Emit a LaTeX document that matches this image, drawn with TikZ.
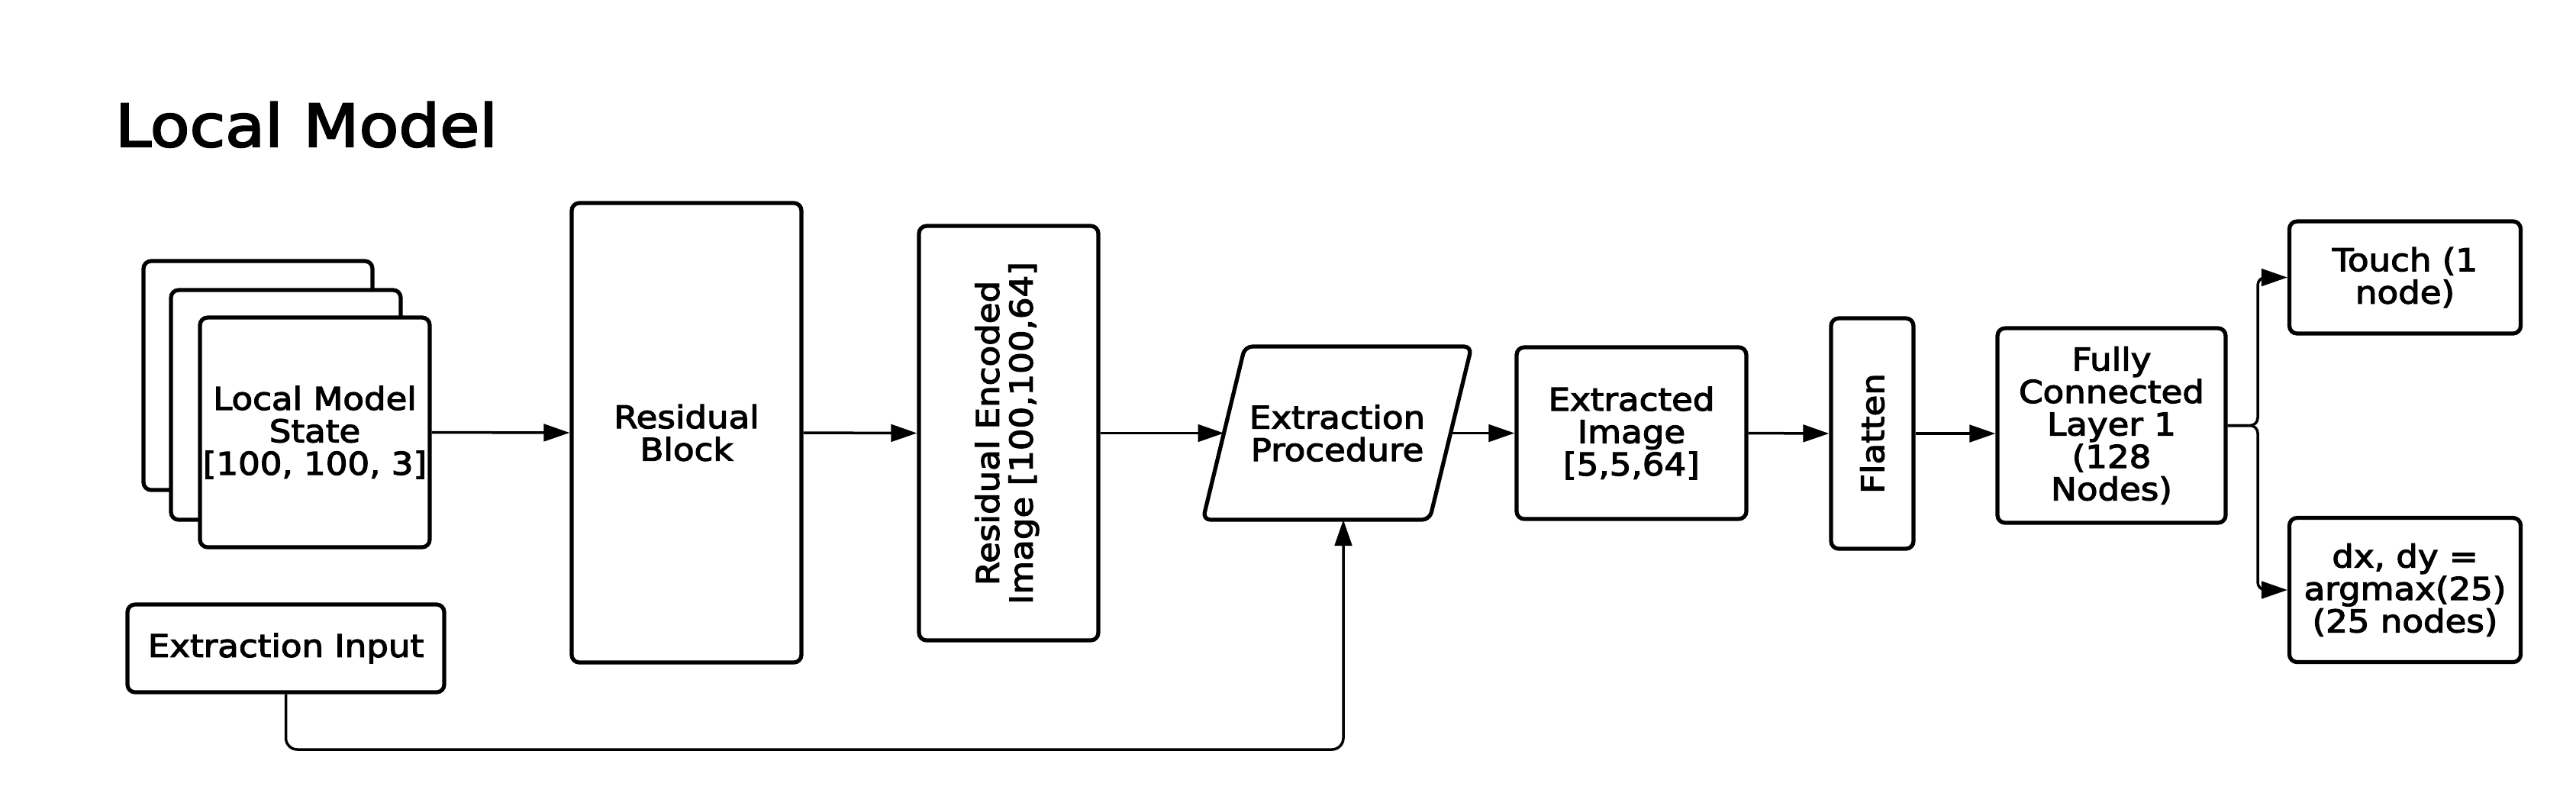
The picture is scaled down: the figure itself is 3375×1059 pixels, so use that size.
\documentclass[tikz,border=0pt]{standalone}
\usepackage{fontspec}
\setmainfont{DejaVu Sans}[FakeStretch=1.1,FakeBold=3]
\usetikzlibrary{arrows.meta}
\begin{document}
\begin{tikzpicture}[x=0.2pt,y=-0.2pt,
  txt/.style={align=center, inner sep=0pt, font=\fontsize{8.2}{8.5}\selectfont},
  box/.style={txt, draw=black, line width=1.05pt, rounded corners=2pt, fill=white},
  arr/.style={line width=0.7pt, -{Triangle[length=6.8pt,width=4.5pt]}},
]
\fill[white] (0,0) rectangle (3375,1059);
\useasboundingbox (0,0) rectangle (3375,1059);

\node[anchor=base west, inner sep=0pt, font=\fontsize{15.4}{18}\selectfont] (title) at (150,192) {Local Model};

% stacked state boxes
\node[box, minimum width=60pt, minimum height=60pt] (back) at (338,492) {};
\node[box, minimum width=60.2pt, minimum height=60.2pt] (middle) at (374.5,530.5) {};
\node[box, minimum width=60.2pt, minimum height=60.2pt] (front) at (412.5,566.5) {Local Model\\State\\{}[100, 100, 3]};

\node[box, minimum width=60.2pt, minimum height=120.4pt] (resid) at (899.5,567) {Residual\\Block};

\node[box, minimum width=47pt, minimum height=108.6pt] (resenc) at (1321.5,567.5)
  {\rotatebox{90}{\begin{tabular}{@{}c@{}}Residual Encoded\\Image [100,100,64]\end{tabular}}};

\node[txt, minimum width=59pt, minimum height=45pt] (para) at (1752,567.5) {Extraction\\Procedure};
\draw[line width=1.05pt, rounded corners=2pt]
  ([xshift=5.5pt]para.north west) -- ([xshift=5.5pt]para.north east) --
  ([xshift=-5.5pt]para.south east) -- ([xshift=-5.5pt]para.south west) -- cycle;

\node[box, minimum width=60.2pt, minimum height=45pt] (extr) at (2137.5,567.5) {Extracted\\Image\\{}[5,5,64]};

\node[box, minimum width=21.6pt, minimum height=60.4pt] (flat) at (2453,568) {\rotatebox{90}{Flatten}};

\node[box, minimum width=59.8pt, minimum height=51pt] (fc) at (2766.5,557.5) {Fully\\Connected\\Layer 1\\(128\\Nodes)};

\node[box, minimum width=60.6pt, minimum height=29.4pt] (touch) at (3151,363.5) {Touch (1\\node)};
\node[box, minimum width=60.6pt, minimum height=37.8pt] (dx) at (3151,773) {dx, dy =\\argmax(25)\\(25 nodes)};

\node[box, minimum width=83pt, minimum height=23pt] (extin) at (374.5,849.5) {Extraction Input};

% connectors
\draw[arr] (front.east) -- (resid.west);
\draw[arr] (resid.east) -- (resenc.west);
\draw[arr] (resenc.east) -- (para.west);
\draw[arr] (para.east) -- (extr.west);
\draw[arr] (extr.east) -- (flat.west);
\draw[arr] (flat.east) -- (flat.east -| fc.west);

\coordinate (bj) at (2958,557.5);
\draw[arr, rounded corners=2pt] (fc.east) -- (bj) |- (touch.west);
\draw[arr, rounded corners=2pt] (fc.east) -- (bj) |- (dx.west);

\coordinate (lowc) at (1760,982);
\draw[arr, rounded corners=3pt] (extin.south) |- (lowc) -- (lowc |- para.south);
\end{tikzpicture}
\end{document}
